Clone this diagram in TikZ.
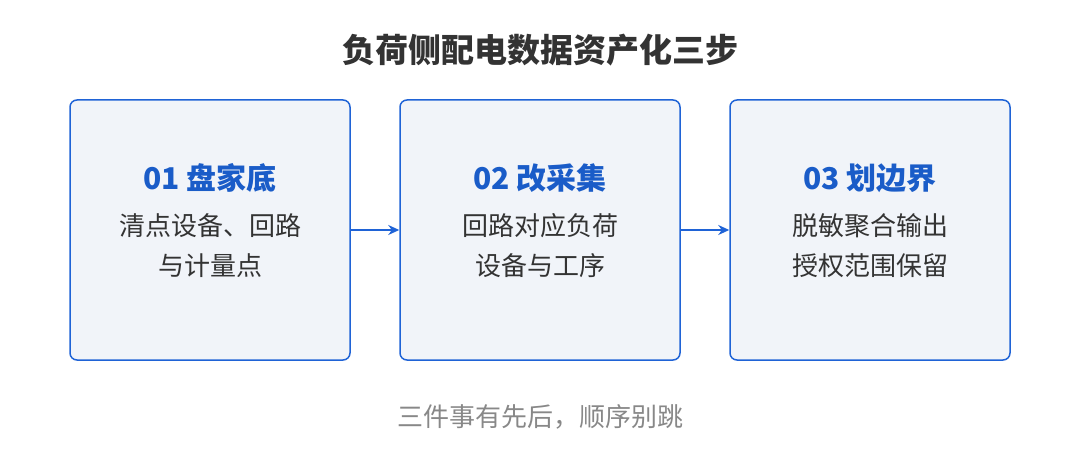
\documentclass[tikz,border=0pt]{standalone}
\usepackage{fontspec}
\setmainfont{Noto Sans CJK SC}
\usetikzlibrary{arrows.meta}
\definecolor{bord}{HTML}{1F63D6}
\definecolor{boxfill}{HTML}{F1F4F9}
\definecolor{head}{HTML}{1A5CC8}
\definecolor{body}{HTML}{333333}
\definecolor{foot}{HTML}{888888}
\begin{document}
\begin{tikzpicture}[x=1pt,y=-1pt,
  box/.style={draw=bord,fill=boxfill,line width=1.5pt,rounded corners=7pt,minimum width=280pt,minimum height=260pt,inner sep=0pt},
  hd/.style={text=head,font=\fontsize{30}{34}\selectfont\bfseries},
  bd/.style={text=body,font=\fontsize{26}{40}\selectfont,align=center},
  arr/.style={draw=bord,line width=1.6pt,-{Stealth[length=11pt,width=10pt]}}]
\useasboundingbox (0,0) rectangle (1080,460);
\node[text=body,font=\fontsize{33}{36}\selectfont\bfseries] (title) at (540,50) {负荷侧配电数据资产化三步};
\node[box] (b1) at (210,230) {};
\node[box] (b2) at (540,230) {};
\node[box] (b3) at (870,230) {};
\node[hd] (h1) at (210,178) {01 盘家底};
\node[hd] (h2) at (540,178) {02 改采集};
\node[hd] (h3) at (870,178) {03 划边界};
\node[bd] (t1) at (210,246) {清点设备、回路\\与计量点};
\node[bd] (t2) at (540,246) {回路对应负荷\\设备与工序};
\node[bd] (t3) at (870,246) {脱敏聚合输出\\授权范围保留};
\draw[arr] (b1.east) -- (b2.west);
\draw[arr] (b2.east) -- (b3.west);
\node[text=foot,font=\fontsize{26}{30}\selectfont] (ft) at (540,417) {三件事有先后，顺序别跳};
\end{tikzpicture}
\end{document}
